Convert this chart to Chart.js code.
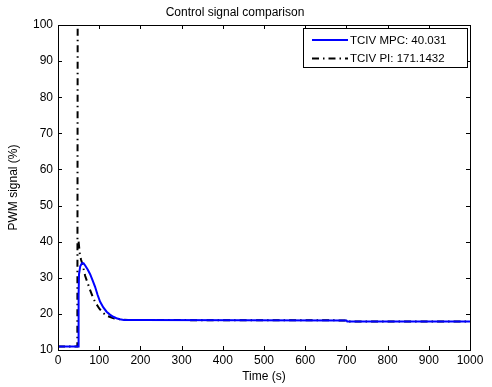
<html>
  <script src="https://cdn.jsdelivr.net/npm/chart.js"></script>
  <body style="margin:0; background:#fff">
    <div style="width: 492px; height: 387px">
      <canvas id="myChart" width="492" height="387"></canvas>
    </div>
  </body>
  <script>
    // values
    var mpcTime = [0, 49, 50, 51, 54, 58, 62, 66, 72, 78, 84, 90, 96, 102, 110, 118, 126, 134, 142, 150, 160, 200, 700, 702, 1000];
    var mpcValue = [11, 11, 25, 31, 33.2, 34, 34, 33.4, 32.3, 31, 29.3, 27.5, 25.3, 23.4, 21.8, 20.6, 19.8, 19.2, 18.8, 18.5, 18.3, 18.3, 18.2, 17.9, 17.9];
    // the PI spike leaves the plot at the top; the return stroke is hidden behind it
    var piTime = [0, 47, 48, 49, 50, 53, 56, 60, 66, 72, 78, 84, 90, 100, 110, 120, 135, 150, 170, 700, 702, 1000];
    var piValue = [11, 11, 130, null, 40, 36.5, 35, 33.5, 30.5, 28.5, 26.6, 24.8, 23.3, 21.5, 20.2, 19.4, 18.8, 18.5, 18.3, 18.2, 17.9, 17.9];
    var seriesNames = ["TCIV MPC: 40.031", "TCIV PI: 171.1432"];
    var xTicks = [0, 100, 200, 300, 400, 500, 600, 700, 800, 900, 1000];
    var yTicks = [10, 20, 30, 40, 50, 60, 70, 80, 90, 100];

    var font = "'Liberation Sans', Arial, sans-serif";
    Chart.defaults.font.family = font;
    Chart.defaults.font.size = 12;
    Chart.defaults.color = "#000";

    function toPoints(t, v) {
      return t.map(function (x, i) { return { x: x, y: v[i] }; });
    }

    // MATLAB-like box with inward ticks
    var boxPlugin = {
      id: "box",
      afterDatasetsDraw: function (chart) {
        var c = chart.ctx, a = chart.chartArea;
        var sx = chart.scales.x, sy = chart.scales.y;
        c.save();
        c.strokeStyle = "#000";
        c.lineWidth = 1;
        c.beginPath();
        xTicks.forEach(function (t) {
          var p = Math.round(sx.getPixelForValue(t)) + 0.5;
          c.moveTo(p, a.bottom); c.lineTo(p, a.bottom - 4);
          c.moveTo(p, a.top); c.lineTo(p, a.top + 4);
        });
        yTicks.forEach(function (t) {
          var p = Math.round(sy.getPixelForValue(t)) + 0.5;
          c.moveTo(a.left, p); c.lineTo(a.left + 4, p);
          c.moveTo(a.right, p); c.lineTo(a.right - 4, p);
        });
        c.stroke();
        c.strokeRect(Math.round(a.left) + 0.5, Math.round(a.top) + 0.5,
          Math.round(a.right - a.left), Math.round(a.bottom - a.top));

        // legend
        var bx = a.right - 167, by = a.top + 3, bw = 164, bh = 39;
        c.fillStyle = "#fff";
        c.fillRect(bx, by, bw, bh);
        c.strokeRect(Math.round(bx) + 0.5, Math.round(by) + 0.5, bw, bh);
        chart.data.datasets.forEach(function (ds, i) {
          var ly = by + 12 + i * 18.5;
          c.strokeStyle = ds.borderColor;
          c.lineWidth = ds.borderWidth;
          c.setLineDash(ds.borderDash || []);
          c.beginPath();
          c.moveTo(bx + 9, ly); c.lineTo(bx + 45, ly);
          c.stroke();
          c.setLineDash([]);
          c.fillStyle = "#000";
          c.font = "11.5px " + font;
          c.textBaseline = "middle";
          c.fillText(ds.label, bx + 47, ly + 0.5);
        });
        c.restore();
      }
    };

    var dataObj = {
      type: "line",
      data: {
        datasets: [
          {
            label: seriesNames[0],
            data: toPoints(mpcTime, mpcValue),
            borderColor: "#0000ff",
            borderWidth: 2,
            pointRadius: 0,
            tension: 0
          },
          {
            label: seriesNames[1],
            data: toPoints(piTime, piValue),
            borderColor: "#000",
            borderWidth: 2,
            borderDash: [7, 4, 1.5, 4],
            pointRadius: 0,
            tension: 0,
            spanGaps: false
          }
        ]
      },
      options: {
        responsive: false,
        animation: false,
        layout: { padding: { left: 0, right: 22, top: 0, bottom: 0 } },
        plugins: {
          legend: { display: false },
          tooltip: { enabled: false },
          title: {
            display: true,
            text: "Control signal comparison",
            font: { size: 12, weight: "normal" },
            color: "#000",
            padding: { top: 5.5, bottom: 5.1 }
          }
        },
        scales: {
          x: {
            type: "linear",
            min: 0,
            max: 1000,
            afterFit: function (s) { s.height = 37; },
            afterBuildTicks: function (s) { s.ticks = xTicks.map(function (v) { return { value: v }; }); },
            grid: { display: false, drawTicks: false },
            border: { display: false },
            ticks: { padding: 3, maxRotation: 0, callback: function (v) { return String(v); } },
            title: { display: true, text: "Time (s)", padding: { top: 2.8, bottom: 3 } }
          },
          y: {
            min: 10,
            max: 100,
            afterFit: function (s) { s.width = 58; },
            afterBuildTicks: function (s) { s.ticks = yTicks.map(function (v) { return { value: v }; }); },
            grid: { display: false, drawTicks: false },
            border: { display: false },
            ticks: { padding: 5, callback: function (v) { return String(v); } },
            title: { display: true, text: "PWM signal (%)", padding: { top: 6.8, bottom: 3 } }
          }
        }
      },
      plugins: [boxPlugin]
    };
    const ctx = document.getElementById("myChart").getContext("2d");
    window.myLine = new Chart(ctx, dataObj);
  </script>
</html>
